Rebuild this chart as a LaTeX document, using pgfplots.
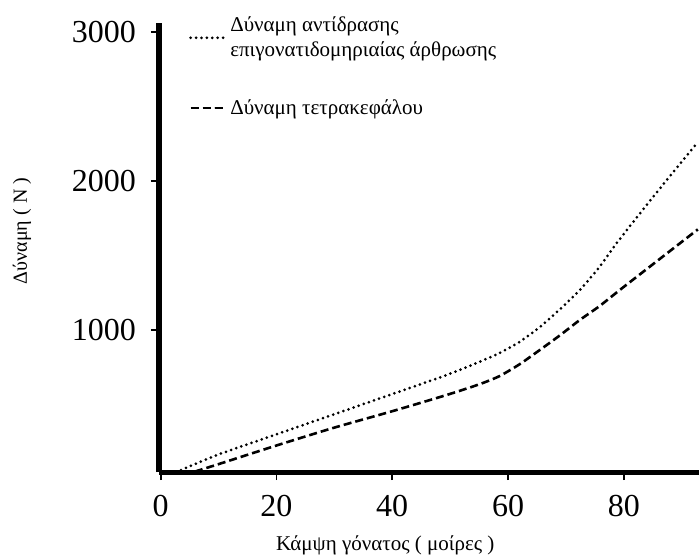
\documentclass[border=0pt]{standalone}
\usepackage{pgfplots}
\pgfplotsset{compat=1.18}
\usepackage{fontspec}
\setmainfont{Liberation Serif}
\begin{document}
\begin{tikzpicture}
\begin{axis}[
  at={(0,0)}, anchor=south west,
  scale only axis, width=270pt, height=224.5pt,
  xmin=-0.3, xmax=93, ymin=47, ymax=3060,
  axis x line*=bottom, axis y line*=left,
  axis line style={line width=2.5pt,-},
  xtick={0,20,40,60,80}, ytick={1000,2000,3000},
  tick align=outside, major tick length=4pt,
  tick style={line width=0.8pt,black},
  /pgf/number format/assume math mode=true,
  /pgf/number format/set thousands separator={},
  ticklabel style={font=\fontsize{16}{16}\selectfont},
  xticklabel style={yshift=-4pt},
  yticklabel style={xshift=-4pt},
  xlabel={Κάμψη γόνατος ( μοίρες )},
  ylabel={Δύναμη ( N )},
  xlabel style={font=\fontsize{10.5}{12}\selectfont, at={(axis description cs:0.419,-0.1737)}, anchor=base},
  ylabel style={font=\fontsize{10}{12}\selectfont, at={(axis description cs:-0.2537,0.537)}, anchor=center},
  legend style={at={(axis description cs:0.044,1.0334)}, anchor=north west, draw=none, fill=none,
    font=\fontsize{10.5}{12.5}\selectfont, cells={align=left, anchor=west}, row sep=16pt,
    /tikz/every even column/.append style={column sep=5pt}},
]
\addplot[black, line width=1.5pt, line cap=round, dash pattern=on 0pt off 2.7pt, smooth, tension=0.4] coordinates {
(3.5,60) (10,165) (20,300) (30,435) (40,570) (49.4,698) (55,785) (58.5,845) (62,920) (65.5,1020) (69,1140) (72.4,1268) (75.8,1423) (78.8,1584) (85,1890) (92.8,2260)
};
\addlegendentry{Δύναμη αντίδρασης\\επιγονατιδομηριαίας άρθρωσης}
\addplot[black, line width=1.3pt, dash pattern=on 4pt off 2pt, smooth, tension=0.4] coordinates {
(5.9,50) (10,100) (20,225) (30,345) (40,455) (49.4,564) (55,635) (58.5,690) (62,770) (65.5,866) (69,965) (72.4,1067) (75.8,1160) (79.3,1268) (85,1440) (92.8,1675)
};
\addlegendentry{Δύναμη τετρακεφάλου}
\end{axis}
\pgfresetboundingbox
\path[use as bounding box] (-79.5pt,-41pt) rectangle (270pt,236pt);
\end{tikzpicture}
\end{document}
